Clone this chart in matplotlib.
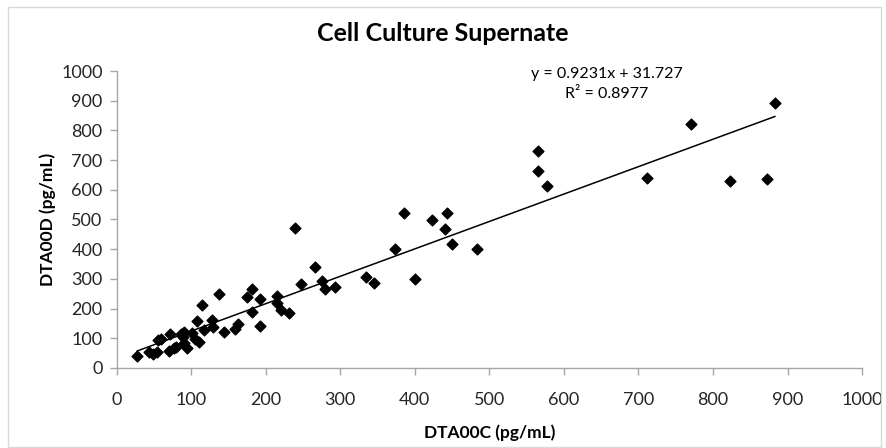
import numpy as np
import matplotlib.pyplot as plt
from matplotlib.patches import Rectangle

# values
dta00c = [28, 43, 49, 54, 56, 60, 70, 72, 77, 80, 86, 89, 90, 91, 94,
          101, 105, 108, 110, 115, 118, 128, 129, 138, 144, 159, 163,
          175, 182, 182, 192, 193, 215, 215, 221, 231, 239, 248, 266,
          276, 279, 293, 334, 345, 373, 385, 401, 423, 440, 443, 450,
          483, 565, 565, 578, 712, 771, 823, 872, 883]
dta00d = [42, 55, 47, 55, 94, 97, 57, 114, 66, 70, 114, 105, 120, 83, 68,
          117, 98, 158, 89, 212, 128, 162, 139, 249, 122, 130, 147,
          238, 266, 187, 231, 143, 243, 218, 194, 186, 472, 283, 339,
          294, 265, 272, 306, 285, 400, 522, 300, 498, 469, 522, 416,
          400, 731, 664, 614, 639, 822, 630, 636, 891]
slope = 0.9231
intercept = 31.727
r2 = 0.8977

plt.rcParams['font.family'] = ['Lato', 'DejaVu Sans']
gray = '#a6a6a6'

fig = plt.figure(figsize=(8.86, 4.48), dpi=100)
ax = fig.add_axes([0.1315, 0.1786, 0.8415, 0.6629])

ax.scatter(dta00c, dta00d, marker='D', s=30, color='black', zorder=3)
xs = np.array([min(dta00c), max(dta00c)])
ax.plot(xs, slope * xs + intercept, color='black', lw=1.1, zorder=2)

ax.set_xlim(0, 1000)
ax.set_ylim(0, 1000)
ax.set_xticks(range(0, 1001, 100))
ax.set_yticks(range(0, 1001, 100))
for side in ['top', 'right']:
    ax.spines[side].set_visible(False)
for side in ['left', 'bottom']:
    ax.spines[side].set_color(gray)
    ax.spines[side].set_linewidth(1)
ax.tick_params(color=gray, length=5, width=1, labelsize=13, labelcolor='#262626')
ax.tick_params(axis='x', pad=12)
ax.tick_params(axis='y', pad=5)

ax.set_xlabel('DTA00C (pg/mL)', fontsize=12.5, fontweight='bold', labelpad=12)
ax.set_ylabel('DTA00D (pg/mL)', fontsize=12.5, fontweight='bold', labelpad=4)
fig.text(0.5, 0.925, 'Cell Culture Supernate', ha='center', va='center',
         fontsize=18, fontweight='bold')

ax.text(658, 990, 'y = 0.9231x + 31.727', ha='center', va='center', fontsize=11.5)
ax.text(658, 922, 'R² = 0.8977', ha='center', va='center', fontsize=11.5)

fig.patches.append(Rectangle((0.009, 0.003), 0.985, 0.982, transform=fig.transFigure,
                             fill=False, edgecolor='#d9d9d9', lw=1))

fig.savefig('out.png', dpi=100)
